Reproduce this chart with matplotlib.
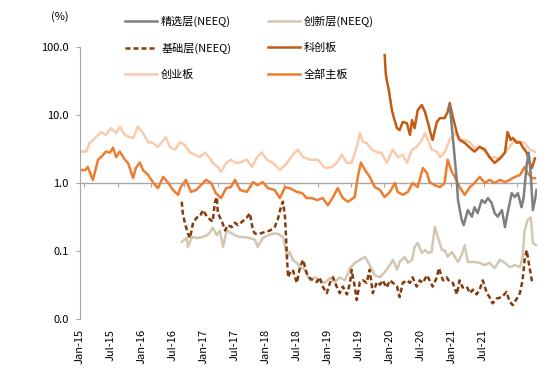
import numpy as np
import matplotlib.pyplot as plt
from matplotlib.ticker import FixedLocator, FuncFormatter, NullLocator

plt.rcParams['font.family'] = ['Noto Sans CJK SC', 'DejaVu Sans']
plt.rcParams['font.size'] = 8

# x = months since Jan-15, values in %
chinext_m = [0.2, 1.2, 1.9, 3.1, 4.1, 5.0, 6.0, 7.0, 7.7, 8.7, 9.7, 10.3, 11.2, 12.2, 13.2, 14.1,
             15.1, 15.7, 16.6, 17.4, 18.4, 19.4, 20.3, 21.3, 22.3, 23.2, 24.2, 25.2, 25.7, 26.7,
             27.3, 28.3, 29.2, 30.2, 31.0, 32.3, 33.3, 34.3, 35.2, 36.2, 37.4, 38.7, 40.1, 41.2,
             42.2, 43.2, 44.5, 46.1, 47.4, 48.8, 49.7, 50.7, 51.7, 52.6, 53.6, 54.2, 54.8, 55.5,
             56.5, 57.7, 58.4, 59.4, 60.6, 61.5, 62.5, 63.3, 64.3, 65.2, 66.2, 66.8, 67.4, 68.1,
             69.1, 69.7, 70.6, 71.6, 72.6, 73.5, 74.5, 75.5, 76.4, 77.4, 78.4, 79.3, 80.3, 81.3,
             82.3, 83.2, 84.2, 85.2, 86.1, 87.1, 88.1]
chinext_v = [2.9, 2.9, 3.9, 4.7, 5.6, 5.1, 6.4, 5.4, 6.7, 5.1, 4.7, 4.6, 6.7, 5.4, 4.0, 3.9,
             3.4, 3.9, 4.7, 3.4, 3.1, 4.0, 3.6, 2.8, 2.6, 2.4, 2.8, 2.3, 1.97, 1.72,
             1.45, 1.97, 2.2, 1.97, 2.0, 2.2, 1.72, 2.4, 2.8, 2.2, 1.97, 1.55, 1.97, 2.6,
             3.1, 2.4, 2.2, 2.2, 1.66, 1.72, 1.97, 2.6, 1.97, 1.97, 3.4, 5.4, 4.0, 3.9,
             3.1, 2.8, 2.8, 1.97, 3.1, 2.4, 2.6, 1.97, 3.1, 3.4, 4.3, 5.4, 4.3, 3.1,
             2.9, 2.4, 2.8, 4.3, 5.4, 4.3, 4.3, 4.0, 3.3, 3.4, 2.9, 2.4, 2.4, 2.2,
             2.8, 3.4, 4.3, 4.0, 3.9, 3.1, 2.9]

main_m = [0.2, 1.0, 1.5, 2.5, 3.5, 4.5, 5.0, 5.8, 6.4, 7.0, 7.7, 8.7, 9.3, 10.3, 10.8, 11.6,
          12.2, 13.2, 14.1, 15.1, 16.1, 17.0, 18.0, 19.0, 19.5, 20.5, 21.5, 22.5, 23.4, 24.4,
          25.4, 26.3, 27.3, 28.3, 29.2, 30.0, 31.0, 32.3, 33.5, 34.4, 35.4, 36.4, 37.7, 38.7,
          39.7, 40.6, 42.0, 43.0, 43.9, 44.9, 45.9, 47.0, 48.0, 49.0, 49.9, 50.9, 51.9, 53.2,
          53.8, 54.4, 55.2, 56.1, 57.1, 58.1, 59.0, 60.0, 61.0, 61.5, 62.5, 63.5, 64.4, 65.4,
          66.4, 67.2, 67.7, 68.7, 69.7, 70.6, 71.2, 72.0, 72.6, 73.5, 74.5, 75.5, 76.4, 77.4,
          78.4, 79.3, 80.3, 81.3, 82.3, 83.2, 84.2, 85.2, 86.1, 86.7, 87.5, 88.1]
main_v = [1.55, 1.55, 1.72, 1.11, 2.2, 2.6, 2.9, 2.8, 3.3, 2.4, 2.9, 2.2, 1.97, 1.18, 1.66, 2.0,
          1.55, 1.31, 1.03, 0.84, 1.23, 1.03, 0.79, 0.67, 0.87, 1.11, 0.74, 0.79, 0.93, 1.11,
          1.0, 0.71, 0.60, 0.84, 0.87, 1.11, 0.79, 0.74, 1.03, 0.93, 1.03, 0.84, 0.79, 0.60,
          0.87, 0.84, 0.74, 0.71, 0.60, 0.60, 0.56, 0.60, 0.47, 0.62, 0.84, 0.60, 0.53, 0.62,
          1.23, 2.0, 1.55, 1.23, 0.87, 0.79, 0.62, 0.74, 1.0, 0.74, 0.67, 0.74, 1.0, 0.87,
          1.66, 1.40, 1.03, 0.93, 0.87, 1.0, 2.2, 1.45, 1.23, 0.87, 0.67, 0.87, 1.0, 1.23,
          1.0, 1.11, 1.0, 1.11, 1.03, 1.11, 1.23, 1.31, 1.72, 1.40, 1.18, 1.18]

star_m = [59.0, 59.2, 59.4, 59.8, 60.4, 60.8, 61.4, 61.9, 62.5, 63.3, 63.9, 64.3, 64.8, 65.4,
          66.2, 66.8, 67.4, 68.1, 68.3, 69.1, 69.7, 70.6, 71.2, 71.6, 72.2, 73.0, 73.5, 74.5,
          75.5, 76.4, 77.4, 78.4, 79.3, 80.3, 81.3, 82.3, 82.8, 83.4, 83.8, 84.6, 85.2, 85.7,
          86.5, 87.1, 87.5, 88.1]
star_v = [76, 41.5, 32.7, 23.3, 11.8, 9.0, 6.4, 6.0, 7.9, 7.6, 5.1, 8.4, 6.4, 11.8,
          14.0, 11.1, 7.6, 4.7, 4.3, 7.9, 9.0, 9.0, 11.1, 15.0, 9.3, 5.4, 4.3, 3.9,
          3.3, 2.9, 3.4, 3.1, 2.4, 1.97, 2.3, 2.8, 5.6, 4.3, 4.6, 3.9, 4.0, 3.4,
          2.8, 1.97, 1.66, 2.3]

select_m = [71.6, 72.2, 72.6, 73.0, 73.2, 73.9, 74.3, 75.1, 75.9, 76.4, 77.0, 77.8, 78.4, 79.0,
            79.7, 80.3, 80.9, 81.7, 82.3, 82.8, 83.6, 84.2, 84.8, 85.5, 85.9, 86.5, 86.9, 87.3,
            87.7, 88.1, 88.4]
select_v = [14.0, 4.7, 2.2, 1.0, 0.56, 0.29, 0.24, 0.40, 0.32, 0.44, 0.36, 0.56, 0.51, 0.60,
            0.51, 0.36, 0.32, 0.40, 0.225, 0.36, 0.71, 0.62, 0.71, 0.44, 0.60, 1.84, 2.8, 1.31,
            0.40, 0.56, 0.79]

innov_m = [19.7, 20.7, 20.9, 21.7, 22.6, 23.6, 24.6, 25.2, 25.7, 26.5, 27.1, 27.7, 28.4, 29.0,
           30.0, 31.0, 31.9, 32.9, 33.9, 34.4, 35.4, 36.4, 37.4, 38.3, 39.3, 39.7, 40.1, 40.6,
           41.2, 42.0, 42.6, 43.2, 43.9, 44.5, 45.5, 46.4, 47.4, 48.4, 49.4, 50.3, 51.3, 52.3,
           53.2, 54.2, 55.2, 56.1, 57.1, 58.1, 59.0, 60.0, 60.6, 61.4, 61.9, 62.9, 63.5, 64.3,
           64.8, 65.4, 66.2, 66.8, 67.4, 68.1, 68.7, 69.3, 70.1, 70.6, 71.2, 72.0, 72.6, 73.2,
           73.9, 74.5, 75.1, 75.9, 76.4, 77.4, 78.4, 79.3, 80.3, 81.3, 82.3, 83.2, 84.2, 85.2,
           85.7, 86.1, 86.7, 87.3, 87.7, 88.3]
innov_v = [0.136, 0.155, 0.115, 0.16, 0.155, 0.16, 0.17, 0.19, 0.22, 0.17, 0.20, 0.115, 0.20, 0.19,
           0.17, 0.16, 0.16, 0.155, 0.146, 0.115, 0.155, 0.17, 0.18, 0.18, 0.16, 0.115, 0.082, 0.097,
           0.074, 0.067, 0.058, 0.056, 0.047, 0.037, 0.041, 0.037, 0.034, 0.040, 0.035, 0.041, 0.037, 0.056,
           0.067, 0.074, 0.082, 0.062, 0.044, 0.041, 0.049, 0.062, 0.074, 0.053, 0.069, 0.082, 0.067, 0.074,
           0.115, 0.131, 0.094, 0.103, 0.094, 0.097, 0.225, 0.16, 0.103, 0.103, 0.082, 0.097, 0.082, 0.069,
           0.087, 0.122, 0.069, 0.069, 0.069, 0.067, 0.062, 0.067, 0.056, 0.074, 0.067, 0.058, 0.062, 0.058,
           0.082, 0.20, 0.29, 0.31, 0.131, 0.122]

base_m = [19.7, 19.9, 20.3, 20.9, 21.3, 21.9, 22.6, 23.2, 23.8, 24.6, 25.2, 25.7, 26.1, 26.5,
          26.7, 27.5, 28.1, 28.6, 29.4, 30.0, 30.6, 31.4, 32.3, 32.9, 33.5, 33.9, 34.8, 35.8,
          36.8, 37.7, 38.3, 38.9, 39.3, 39.7, 39.9, 40.1, 40.3, 40.6, 41.2, 42.0, 42.6, 43.2,
          43.9, 44.5, 45.1, 45.9, 46.4, 47.0, 47.8, 48.4, 49.0, 49.7, 50.3, 50.9, 51.7, 52.3,
          52.6, 53.2, 53.6, 54.2, 54.8, 55.5, 56.1, 56.7, 57.5, 58.1, 58.6, 59.4, 60.0, 60.6,
          61.4, 61.9, 62.5, 63.3, 63.9, 64.4, 65.2, 65.8, 66.4, 67.2, 67.7, 68.3, 69.1, 69.5,
          70.3, 71.0, 71.6, 72.2, 73.0, 73.5, 74.1, 74.9, 75.5, 76.1, 76.8, 77.4, 78.0, 78.8,
          79.3, 79.9, 80.7, 81.7, 82.6, 83.2, 83.8, 84.6, 85.2, 85.7, 86.1, 86.5, 86.9, 87.5,
          88.1]
base_v = [0.53, 0.36, 0.26, 0.18, 0.155, 0.26, 0.31, 0.32, 0.40, 0.32, 0.29, 0.27, 0.51, 0.62,
          0.36, 0.27, 0.20, 0.24, 0.225, 0.26, 0.24, 0.27, 0.31, 0.36, 0.20, 0.18, 0.18, 0.19,
          0.20, 0.225, 0.29, 0.44, 0.53, 0.32, 0.16, 0.074, 0.041, 0.047, 0.053, 0.034, 0.058, 0.074,
          0.047, 0.040, 0.037, 0.035, 0.041, 0.030, 0.024, 0.034, 0.041, 0.030, 0.024, 0.030, 0.023, 0.034,
          0.053, 0.030, 0.019, 0.035, 0.037, 0.034, 0.053, 0.024, 0.035, 0.032, 0.037, 0.029, 0.037, 0.034,
          0.030, 0.021, 0.034, 0.037, 0.034, 0.041, 0.030, 0.037, 0.034, 0.044, 0.037, 0.030, 0.041, 0.056,
          0.037, 0.041, 0.035, 0.034, 0.023, 0.037, 0.029, 0.030, 0.024, 0.027, 0.023, 0.027, 0.037, 0.024,
          0.021, 0.017, 0.020, 0.021, 0.025, 0.018, 0.016, 0.020, 0.024, 0.037, 0.074, 0.103, 0.067, 0.037,
          0.034]

label_pos = np.arange(0, 79, 6)
labels = ['Jan-15', 'Jul-15', 'Jan-16', 'Jul-16', 'Jan-17', 'Jul-17', 'Jan-18', 'Jul-18',
          'Jan-19', 'Jul-19', 'Jan-20', 'Jul-20', 'Jan-21', 'Jul-21']

gray = '#A6A6A6'
lw = 1.8

fig = plt.figure(figsize=(5.55, 3.68), dpi=100)
ax = fig.add_axes([80 / 555, 1 - 319 / 368, 457 / 555, 272 / 368])

l_cy, = ax.plot(chinext_m, chinext_v, color='#F8CBAD', lw=lw, zorder=2)
l_cx, = ax.plot(innov_m, innov_v, color='#D3C7B4', lw=lw, zorder=2.1)
l_zb, = ax.plot(main_m, main_v, color='#ED7D31', lw=lw, zorder=2.2)
l_kc, = ax.plot(star_m, star_v, color='#C55A11', lw=lw, zorder=2.3)
l_jx, = ax.plot(select_m, select_v, color='#7F7F7F', lw=lw, zorder=2.4)
l_jc, = ax.plot(base_m, base_v, color='#843C0C', lw=lw, ls=(0, (2, 1.2)), zorder=2.5)

ax.set_yscale('log')
ax.set_ylim(0.01, 100)
ax.yaxis.set_major_locator(FixedLocator([0.01, 0.1, 1, 10, 100]))
ax.yaxis.set_minor_locator(NullLocator())
ax.yaxis.set_major_formatter(FuncFormatter(lambda v, p: f'{v:.1f}'))

ax.set_xlim(0, 88.5)
ax.set_xticks(label_pos)
ax.set_xticklabels(labels, rotation=90)
ax.tick_params(axis='x', length=0, pad=7)
ax.tick_params(axis='y', length=3, color=gray, pad=5, direction='out')
for s in ['top', 'right', 'bottom']:
    ax.spines[s].set_visible(False)
ax.spines['left'].set_color(gray)

# axis line crossing at 1.0
ax.axhline(1, color=gray, lw=1, zorder=1)
sec = ax.secondary_xaxis(0.5)
sec.set_alignment('bottom')
sec.set_xticks(np.arange(0.85, 88.5, 6.45))
sec.tick_params(axis='x', length=3, color=gray, labelbottom=False, labeltop=False)
for s in sec.spines.values():
    s.set_visible(False)

fig.text(60 / 555, 1 - 17 / 368, '(%)', ha='center', va='center')

handles = [l_jx, l_jc, l_cy, l_cx, l_kc, l_zb]
names = ['精选层(NEEQ)', '基础层(NEEQ)', '创业板', '创新层(NEEQ)', '科创板', '全部主板']
fig.legend(handles, names, ncol=2, loc='upper left', bbox_to_anchor=(125 / 555, 1 - 16 / 368),
           frameon=False, borderpad=0, borderaxespad=0, handlelength=2.9, handletextpad=0.35,
           columnspacing=3.3, labelspacing=1.4, fontsize=8)

fig.savefig('out.png', dpi=100)
